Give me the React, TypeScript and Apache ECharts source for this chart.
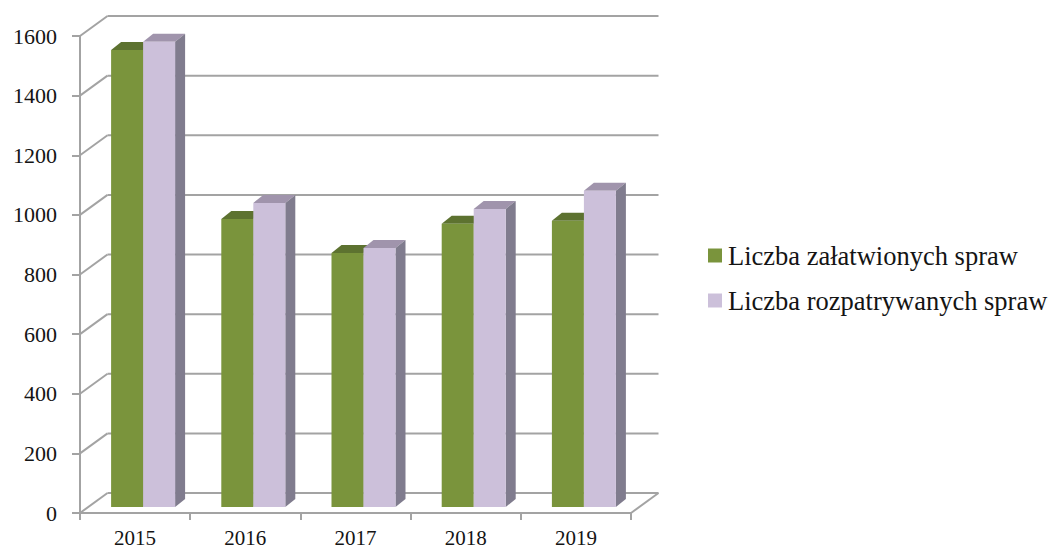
import React, { useEffect, useRef } from "react";
import * as echarts from "echarts";

const categories = ["2015", "2016", "2017", "2018", "2019"];
const seriesNames = ["Liczba załatwionych spraw", "Liczba rozpatrywanych spraw"];
const closedCases = [1533, 966, 852, 950, 960];
const examinedCases = [1561, 1020, 869, 1000, 1061];
const gridValues = [0, 200, 400, 600, 800, 1000, 1200, 1400, 1600];

const FONT = '"Liberation Serif", "Times New Roman", serif';
const LINE = "#a3a3a3";
const DEPTH_X = 27.5;
const DEPTH_Y = 20;
const BAR_SHIFT_X = 8;
const BAR_SHIFT_Y = 6;
const BAR_W = 32;
const BAR_DX = 10;
const BAR_DY = 8;

const wallItem = (params: any, api: any) => {
  const v = api.value(0);
  const p = api.coord([0, v]);
  const cs = params.coordSys;
  const x0 = cs.x;
  const x1 = cs.x + cs.width;
  const y = p[1];
  const lineStyle = { stroke: LINE, lineWidth: 2, fill: "none" };
  const children: any[] = [
    { type: "line", shape: { x1: x0, y1: y, x2: x0 + DEPTH_X, y2: y - DEPTH_Y }, style: lineStyle },
    { type: "line", shape: { x1: x0 + DEPTH_X, y1: y - DEPTH_Y, x2: x1 + DEPTH_X, y2: y - DEPTH_Y }, style: lineStyle },
  ];
  if (v === 0) {
    children.push({ type: "line", shape: { x1, y1: y, x2: x1 + DEPTH_X, y2: y - DEPTH_Y }, style: lineStyle });
  }
  return { type: "group", children };
};

const barItem = (side: number, front: string, top: string, flank: string) => (params: any, api: any) => {
  const cat = api.value(0);
  const val = api.value(1);
  const t = api.coord([cat, val]);
  const b = api.coord([cat, 0]);
  const xl = t[0] + BAR_SHIFT_X + (side === 0 ? -BAR_W : 0);
  const xr = xl + BAR_W;
  const yt = t[1] - BAR_SHIFT_Y;
  const yb = b[1] - BAR_SHIFT_Y;
  return {
    type: "group",
    children: [
      { type: "polygon", shape: { points: [[xl, yt], [xl + BAR_DX, yt - BAR_DY], [xr + BAR_DX, yt - BAR_DY], [xr, yt]] }, style: { fill: top } },
      { type: "polygon", shape: { points: [[xr, yt], [xr + BAR_DX, yt - BAR_DY], [xr + BAR_DX, yb - BAR_DY], [xr, yb]] }, style: { fill: flank } },
      { type: "rect", shape: { x: xl, y: yt, width: BAR_W, height: yb - yt }, style: { fill: front } },
    ],
  };
};

export default function App() {
  const ref = useRef<HTMLDivElement>(null);
  useEffect(() => {
    const chart = echarts.init(ref.current!, undefined, { renderer: "svg" });
    chart.setOption({
      animation: false,
      backgroundColor: "#ffffff",
      grid: { left: 80, right: 419, top: 36, bottom: 37, outerBoundsMode: "none" },
      legend: {
        orient: "vertical",
        left: 703,
        top: 237,
        icon: "rect",
        itemWidth: 14,
        itemHeight: 14,
        itemGap: 18,
        data: seriesNames,
        textStyle: { fontFamily: FONT, fontSize: 26.5, color: "#141414", padding: [0, 0, 0, 1] },
      },
      xAxis: {
        type: "category",
        data: categories,
        axisLine: { lineStyle: { color: LINE, width: 2 } },
        axisTick: { show: true, alignWithLabel: false, length: 7, lineStyle: { color: LINE, width: 2 } },
        axisLabel: { fontFamily: FONT, fontSize: 21, lineHeight: 16, color: "#141414", margin: 17 },
      },
      yAxis: {
        type: "value",
        min: 0,
        max: 1600,
        interval: 200,
        splitLine: { show: false },
        axisLine: { show: true, lineStyle: { color: LINE, width: 2 } },
        axisTick: { show: true, length: 8, lineStyle: { color: LINE, width: 2 } },
        axisLabel: { fontFamily: FONT, fontSize: 22, color: "#141414", margin: 23, formatter: (v: number) => String(v) },
      },
      series: [
        {
          type: "custom",
          renderItem: wallItem,
          data: gridValues.map((v) => [v]),
          encode: { y: 0 },
          clip: false,
          silent: true,
          z: 1,
        },
        {
          name: seriesNames[0],
          type: "custom",
          renderItem: barItem(0, "#7a943c", "#5d7230", "#5d7230"),
          itemStyle: { color: "#7a943c" },
          data: closedCases.map((v, i) => [i, v]),
          encode: { x: 0, y: 1 },
          clip: false,
          z: 2,
        },
        {
          name: seriesNames[1],
          type: "custom",
          renderItem: barItem(1, "#ccc0da", "#a094ac", "#807c8e"),
          itemStyle: { color: "#ccc0da" },
          data: examinedCases.map((v, i) => [i, v]),
          encode: { x: 0, y: 1 },
          clip: false,
          z: 3,
        },
      ],
    });
    return () => chart.dispose();
  }, []);
  return <div ref={ref} style={{ position: "fixed", left: 0, top: 0, width: 1050, height: 550 }} />;
}
